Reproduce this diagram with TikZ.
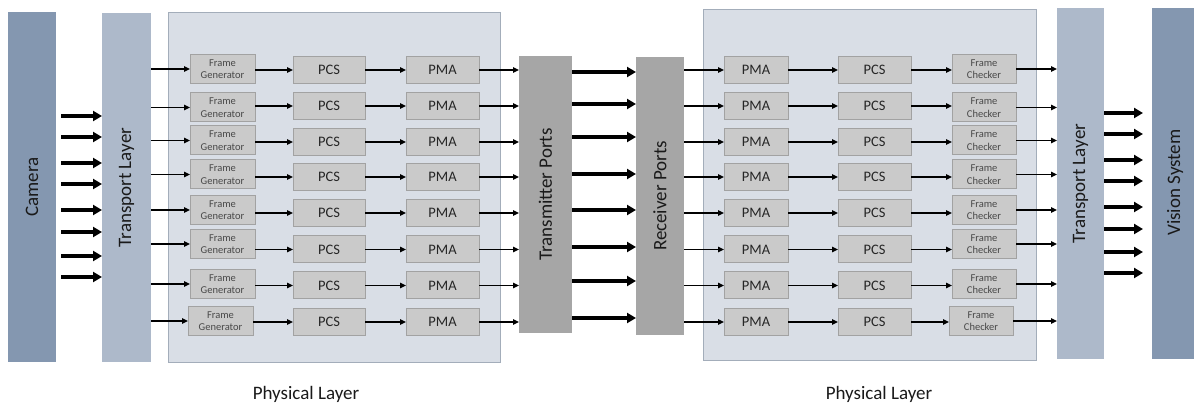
\documentclass[tikz,border=0pt]{standalone}
\usepackage{fontspec}
\setmainfont{Carlito}
\usetikzlibrary{arrows.meta}
\definecolor{slate}{HTML}{8497B0}
\definecolor{tlay}{HTML}{ADB9CA}
\definecolor{phys}{HTML}{D9DEE6}
\definecolor{physd}{HTML}{A3ADBA}
\definecolor{portg}{HTML}{A6A6A6}
\definecolor{sgray}{HTML}{CACACA}
\definecolor{sgrayd}{HTML}{A2A2A2}
\definecolor{ftext}{HTML}{484848}
\definecolor{btext}{HTML}{262626}
\definecolor{dark}{HTML}{1A1A1A}
\begin{document}
\begin{tikzpicture}[x=1pt,y=-1pt,
  lay/.style={inner sep=0pt, outer sep=0pt},
  cambox/.style={lay, fill=slate},
  tbox/.style={lay, fill=tlay},
  pbox/.style={lay, fill=phys, draw=physd, line width=0.8pt},
  portbox/.style={lay, fill=portg},
  sbox/.style={lay, fill=sgray, draw=sgrayd, line width=1pt, minimum height=27pt,
    font=\fontsize{14.5}{16}\selectfont, text=btext},
  fbox/.style={lay, fill=sgray, draw=sgrayd, line width=1pt, minimum width=65pt,
    minimum height=29pt, font=\fontsize{10.5}{12.5}\selectfont, text=ftext, align=center},
  bigtxt/.style={rotate=90, font=\fontsize{19}{22}\selectfont, text=dark, inner sep=0pt},
  captxt/.style={font=\fontsize{19}{22}\selectfont, text=dark, anchor=base, inner sep=0pt},
  tarr/.style={line width=1.4pt, -{Triangle[length=6pt,width=5.5pt]}},
  karr/.style={line width=3.4pt, -{Triangle[length=9pt,width=10pt]}},
]
\useasboundingbox (0,0) rectangle (1194,403);

% big blocks
\node[cambox, minimum width=48pt, minimum height=350pt] (cam) at (32,187) {};
\node[bigtxt] (camT) at (cam.center) {Camera};
\node[tbox, minimum width=49pt, minimum height=349pt] (tl) at (126.5,187.5) {};
\node[bigtxt] (tlT) at (tl.center) {Transport Layer};
\node[pbox, minimum width=332pt, minimum height=350pt] (pl) at (334,187) {};
\node[portbox, minimum width=53pt, minimum height=277pt] (tx) at (545.5,194.5) {};
\node[bigtxt] (txT) at (tx.center) {Transmitter Ports};
\node[portbox, minimum width=48pt, minimum height=278pt] (rx) at (660,196) {};
\node[bigtxt] (rxT) at (rx.center) {Receiver Ports};
\node[pbox, minimum width=333pt, minimum height=351pt] (pr) at (869.5,184.5) {};
\node[tbox, minimum width=47pt, minimum height=351pt] (tr) at (1080.5,183.5) {};
\node[bigtxt] (trT) at (tr.center) {Transport Layer};
\node[cambox, minimum width=42pt, minimum height=351pt] (vs) at (1173,183.5) {};
\node[bigtxt] (vsT) at (1175,182.5) {Vision System};

\node[captxt] (plT) at (306,399) {Physical Layer};
\node[captxt] (prT) at (879,399) {Physical Layer};

% rows
\foreach \i/\r/\b/\fx/\cx in {1/70/69/222.5/984, 2/106/107.5/222.5/984, 3/142/140.5/222.5/984,
  4/177/174.5/222.5/984, 5/213/210/222.5/984, 6/249.5/244/222.5/984,
  7/285.5/284/222.5/984, 8/322/321/220.5/981}{
  \node[fbox] (fg\i) at (\fx,\b) {Frame\\Generator};
  \node[sbox, minimum width=72pt] (pcsL\i) at (329,\r) {PCS};
  \node[sbox, minimum width=73pt] (pmaL\i) at (442.5,\r) {PMA};
  \node[sbox, minimum width=64pt] (pmaR\i) at (756,\r) {PMA};
  \node[sbox, minimum width=73pt] (pcsR\i) at (874.5,\r) {PCS};
  \node[fbox, minimum width=64pt] (fc\i) at (\cx,\b) {Frame\\Checker};
  \draw[tarr] (tl.east |- fg\i.west) -- (fg\i.west);
  \draw[tarr] (fg\i.east |- pcsL\i.west) -- (pcsL\i.west);
  \draw[tarr] (pcsL\i.east) -- (pmaL\i.west);
  \draw[tarr] (pmaL\i.east) -- (tx.west |- pmaL\i.east);
  \draw[tarr] (rx.east |- pmaR\i.west) -- (pmaR\i.west);
  \draw[tarr] (pmaR\i.east) -- (pcsR\i.west);
  \draw[tarr] (pcsR\i.east) -- (fc\i.west |- pcsR\i.east);
  \draw[tarr] (fc\i.east) -- (tr.west |- fc\i.east);
}

% thick arrows
\foreach \y [count=\k] in {116,137,163,184,210,232,256,277}{
  \coordinate (ca\k) at (61,\y);
  \draw[karr] (ca\k) -- (tl.west |- ca\k);
}
\foreach \y [count=\k] in {72,104,137,174,210,247,281,318}{
  \coordinate (tt\k) at (600,\y);
  \draw[karr] (tx.east |- tt\k) -- (rx.west |- tt\k);
}
\foreach \y [count=\k] in {113,134,160,181,207,229,252,273}{
  \coordinate (vv\k) at (1143,\y);
  \draw[karr] (tr.east |- vv\k) -- (vv\k);
}
\end{tikzpicture}
\end{document}
